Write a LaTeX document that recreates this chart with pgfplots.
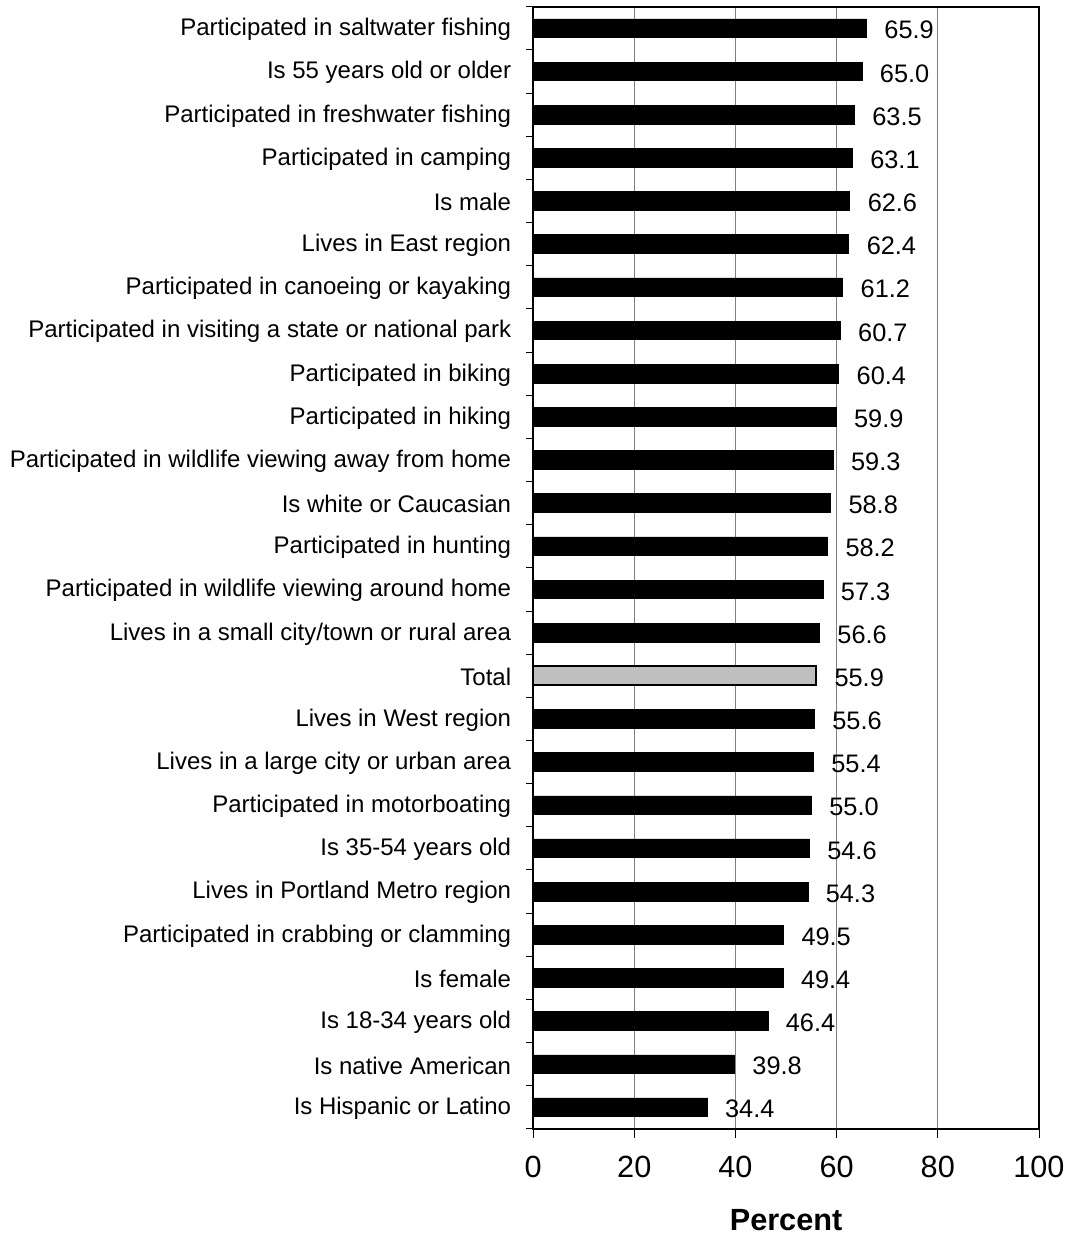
\documentclass[border=0pt]{standalone}
\usepackage{pgfplots}
\pgfplotsset{compat=1.18}
\usepackage{fontspec}
\setmainfont{Liberation Sans}
\begin{document}
\begin{tikzpicture}
\begin{axis}[
  scale only axis,
  width=379.5pt, height=842pt,
  xmin=0, xmax=100,
  ymin=-0.5, ymax=25.5,
  xbar, bar width=14pt,
  /pgf/number format/assume math mode=true,
  xtick={0,20,40,60,80,100},
  xtick align=outside,
  major x tick style={black, line width=0.6pt},
  major tick length=7pt,
  xmajorgrids,
  major x grid style={gray, line width=0.5pt},
  ytick={0,...,25},
  yticklabels={Is Hispanic or Latino, Is native American, Is 18-34 years old, Is female, Participated in crabbing or clamming, Lives in Portland Metro region, Is 35-54 years old, Participated in motorboating, Lives in a large city or urban area, Lives in West region, Total, Lives in a small city/town or rural area, Participated in wildlife viewing around home, Participated in hunting, Is white or Caucasian, Participated in wildlife viewing away from home, Participated in hiking, Participated in biking, Participated in visiting a state or national park, Participated in canoeing or kayaking, Lives in East region, Is male, Participated in camping, Participated in freshwater fishing, Is 55 years old or older, Participated in saltwater fishing},
  major y tick style={draw=none},
  minor ytick={-0.5,0.5,...,25.5},
  minor y tick style={black, line width=0.6pt},
  minor tick length=5pt,
  ytick align=outside,
  yticklabel style={font=\fontsize{18}{21}\selectfont, xshift=-6pt, yshift=-1pt},
  xticklabel style={font=\fontsize{23}{27}\selectfont, yshift=-10pt},
  xlabel={\textbf{Percent}},
  xlabel style={font=\fontsize{23}{27}\selectfont, inner sep=0pt, yshift=-20pt},
  axis line style={black, line width=1.5pt},
  tick pos=left,
  nodes near coords,
  nodes near coords style={font=\fontsize{19}{22}\selectfont, anchor=west, xshift=10pt, yshift=-1.5pt},
  every node near coord/.append style={/pgf/number format/fixed, /pgf/number format/fixed zerofill, /pgf/number format/precision=1},
]
\addplot[fill=black, draw=black, bar shift=0pt] coordinates {
(34.4,0) (39.8,1) (46.4,2) (49.4,3) (49.5,4) (54.3,5) (54.6,6) (55.0,7) (55.4,8) (55.6,9)
(56.6,11) (57.3,12) (58.2,13) (58.8,14) (59.3,15) (59.9,16) (60.4,17) (60.7,18) (61.2,19) (62.4,20) (62.6,21) (63.1,22) (63.5,23) (65.0,24) (65.9,25)};
\addplot[fill=black!25, draw=black, line width=1.4pt, bar shift=0pt] coordinates {(55.9,10)};
\end{axis}
\path (current axis.north) ++(0,5pt) coordinate (topmargin);
\path (topmargin) -- (current axis.north);
\path (current bounding box.south west) ++(-4pt,-4pt) coordinate (bl);
\path (current bounding box.north east) ++(3pt,0pt) coordinate (tr);
\end{tikzpicture}
\end{document}
